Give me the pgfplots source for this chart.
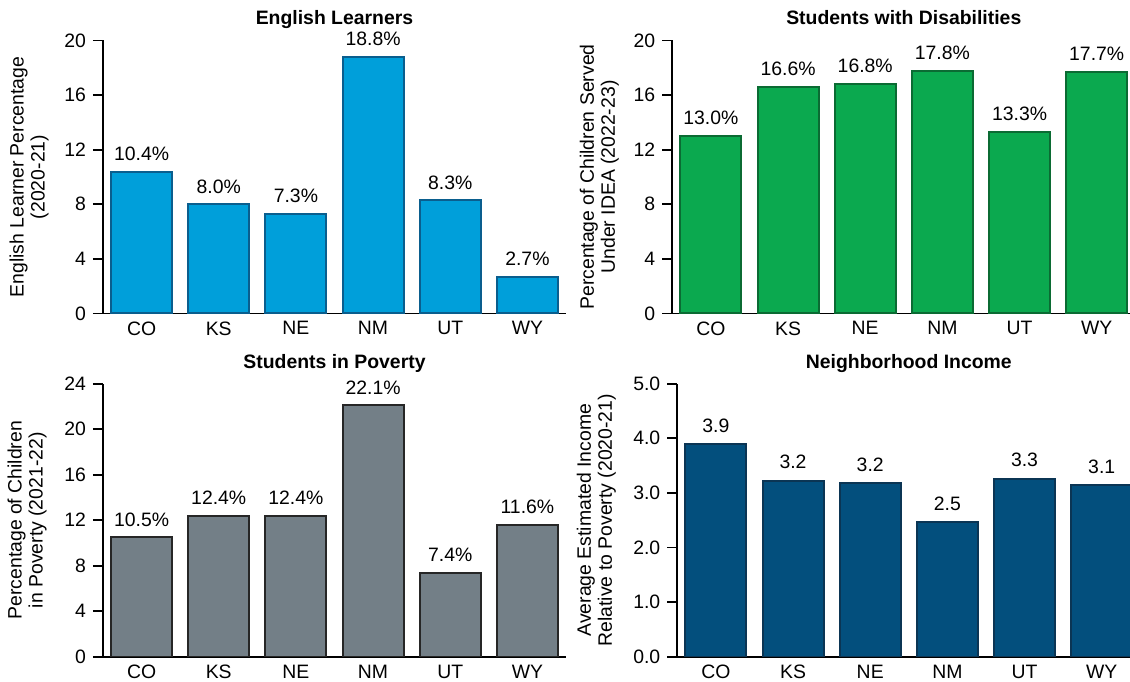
\documentclass[border=0pt]{standalone}
\usepackage{pgfplots}
\pgfplotsset{compat=1.18}
\usepackage{fontspec}
\setmainfont{Liberation Sans}
\definecolor{fillA}{HTML}{009FDA}
\definecolor{edgeA}{HTML}{0A5E8E}
\definecolor{fillB}{HTML}{0BA94F}
\definecolor{edgeB}{HTML}{0B6B33}
\definecolor{fillC}{HTML}{737F87}
\definecolor{edgeC}{HTML}{262626}
\definecolor{fillD}{HTML}{034F7D}
\definecolor{edgeD}{HTML}{0B3554}
\begin{document}
\begin{tikzpicture}
\pgfplotsset{
  panel/.style={
    scale only axis, width=231.5pt, height=136.5pt,
    axis x line=bottom, axis y line=left,
    axis line style={line width=0.9pt,-,black},
    xmin=-0.5, xmax=5.5, ymin=0,
    xtick={0,1,2,3,4,5}, xticklabels={CO,KS,NE,NM,UT,WY},
    xtick align=inside, ytick align=outside,
    x tick style={draw=none},
    y tick style={line width=0.9pt,black},
    major tick length=5pt,
    /pgf/number format/assume math mode=true,
    font=\fontsize{9.7}{10.5}\selectfont,
    tick label style={font=\fontsize{9.7}{10.5}\selectfont},
    xticklabel style={yshift=4.5pt},
    every axis title shift=0pt,
    title style={at={(0.5,1)}, anchor=base, yshift=7.8pt, inner sep=0pt, font=\fontsize{9.7}{10.5}\selectfont\bfseries},
    ylabel style={at={(axis description cs:0,0.5)}, anchor=south, inner sep=0pt, align=center, font=\fontsize{9.7}{10.5}\selectfont},
    ybar, bar width=0.79, bar shift=0pt,
    every node near coord/.append style={anchor=base, yshift=5.6pt, text=black, font=\fontsize{9.7}{10.5}\selectfont},
  },
  pct/.style={nodes near coords={\pgfmathprintnumber[fixed,fixed zerofill,precision=1]{\pgfplotspointmeta}\%}},
}
% Panel 1
\begin{axis}[panel, pct, at={(51.5pt,183.75pt)}, anchor=south west,
  ymax=20, ytick={0,4,8,12,16,20},
  title={English Learners},
  ylabel={English Learner Percentage\\(2020-21)},
  ylabel style={yshift=27pt}]
\addplot[fill=fillA, draw=edgeA, line width=1pt] coordinates {(0,10.4) (1,8.0) (2,7.3) (3,18.8) (4,8.3) (5,2.7)};
\end{axis}
% Panel 2
\begin{axis}[panel, pct, at={(336.15pt,183.75pt)}, anchor=south west,
  ymax=20, ytick={0,4,8,12,16,20},
  title={Students with Disabilities},
  ylabel={Percentage of Children Served\\Under IDEA (2022-23)},
  ylabel style={yshift=26.5pt}]
\addplot[fill=fillB, draw=edgeB, line width=1pt] coordinates {(0,13.0) (1,16.6) (2,16.8) (3,17.8) (4,13.3) (5,17.7)};
\end{axis}
% Panel 3
\begin{axis}[panel, pct, at={(51.5pt,12.15pt)}, anchor=south west,
  ymax=24, ytick={0,4,8,12,16,20,24},
  title={Students in Poverty},
  ylabel={Percentage of Children\\in Poverty (2021-22)},
  ylabel style={yshift=28pt}]
\addplot[fill=fillC, draw=edgeC, line width=1pt] coordinates {(0,10.5) (1,12.4) (2,12.4) (3,22.1) (4,7.4) (5,11.6)};
\end{axis}
% Panel 4
\begin{axis}[panel, at={(338.65pt,12.15pt)}, anchor=south west,
  ymax=5, ytick={0,1,2,3,4,5},
  yticklabel style={/pgf/number format/.cd, fixed, fixed zerofill, precision=1},
  nodes near coords={\pgfmathprintnumber[fixed,fixed zerofill,precision=1]{\pgfplotspointmeta}},
  every node near coord/.append style={yshift=0.4pt},
  title={Neighborhood Income},
  ylabel={Average Estimated Income\\Relative to Poverty (2020-21)},
  ylabel style={yshift=30.5pt}]
\addplot[fill=fillD, draw=edgeD, line width=1pt] coordinates {(0,3.89) (1,3.22) (2,3.18) (3,2.46) (4,3.26) (5,3.14)};
\end{axis}
\pgfresetboundingbox
\useasboundingbox (0pt,0pt) rectangle (565pt,340.5pt);
\end{tikzpicture}
\end{document}
